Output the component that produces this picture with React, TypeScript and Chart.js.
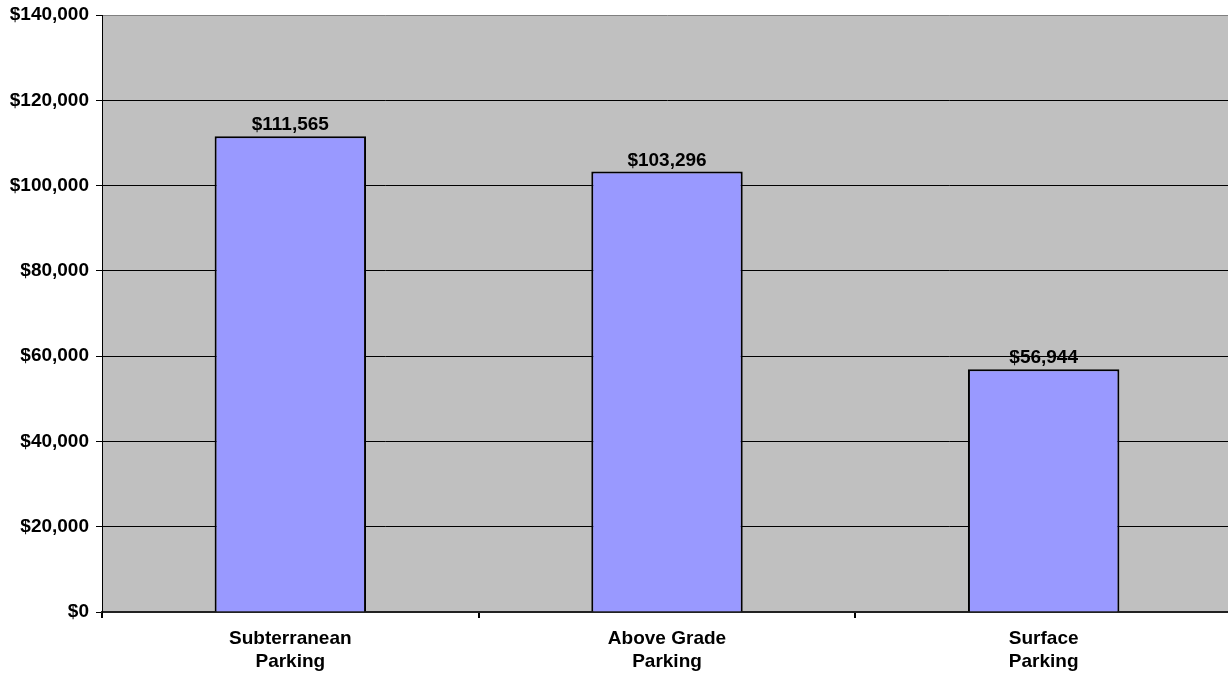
import React, { useEffect, useRef } from "react";
import { Chart, registerables } from "chart.js";

Chart.register(...registerables);

const categories: string[][] = [
  ["Subterranean", "Parking"],
  ["Above Grade", "Parking"],
  ["Surface", "Parking"],
];
const costValues: number[] = [111565, 103296, 56944];
const yTickValues: number[] = [0, 20000, 40000, 60000, 80000, 100000, 120000, 140000];

const FONT = "'Liberation Sans', Arial, sans-serif";

const fmt = (v: number) => "$" + v.toLocaleString("en-US");

const bgPlugin = {
  id: "plotBg",
  beforeDraw(chart: any) {
    const { ctx, chartArea } = chart;
    ctx.save();
    ctx.fillStyle = "#C0C0C0";
    ctx.fillRect(chartArea.left, chartArea.top, chartArea.right - chartArea.left, chartArea.bottom - chartArea.top);
    ctx.restore();
  },
};

const labelPlugin = {
  id: "valueLabels",
  afterDatasetsDraw(chart: any) {
    const { ctx } = chart;
    const meta = chart.getDatasetMeta(0);
    ctx.save();
    ctx.font = `bold 19px ${FONT}`;
    ctx.fillStyle = "#000";
    ctx.textAlign = "center";
    ctx.textBaseline = "alphabetic";
    meta.data.forEach((bar: any, i: number) => {
      ctx.fillText(fmt(costValues[i]), bar.x, bar.y - 6);
    });
    ctx.restore();
  },
};

export default function App() {
  const ref = useRef<HTMLCanvasElement | null>(null);
  useEffect(() => {
    document.body.style.margin = "0";
    const chart = new Chart(ref.current as HTMLCanvasElement, {
      type: "bar",
      data: {
        labels: categories,
        datasets: [
          {
            data: costValues,
            backgroundColor: "#9999FF",
            borderColor: "#000000",
            borderWidth: 2,
            categoryPercentage: 1,
            barPercentage: 0.402,
          },
        ],
      },
      options: {
        animation: false,
        responsive: false,
        maintainAspectRatio: false,
        layout: { padding: { top: 15, right: 0, left: 0, bottom: 0 } },
        plugins: {
          legend: { display: false },
          tooltip: { enabled: false },
        },
        scales: {
          x: {
            grid: {
              offset: true,
              drawOnChartArea: false,
              drawTicks: true,
              tickLength: 6,
              color: "#000",
              lineWidth: 2,
            },
            border: { color: "#222", width: 2 },
            ticks: {
              color: "#000",
              padding: 9,
              maxRotation: 0,
              font: { family: FONT, size: 19, weight: "bold", lineHeight: 1.22 },
            },
            afterFit(scale: any) {
              scale.height = 63;
              scale.paddingLeft = 0;
              scale.paddingRight = 0;
            },
          },
          y: {
            min: 0,
            max: 140000,
            afterBuildTicks(scale: any) {
              scale.ticks = yTickValues.map((v) => ({ value: v }));
            },
            grid: {
              color: (c: any) => (c.tick && c.tick.value === 140000 ? "#808080" : "#000"),
              tickColor: "#000",
              tickLength: 6,
              lineWidth: 1,
            },
            border: { color: "#000", width: 1 },
            ticks: {
              color: "#000",
              padding: 7,
              font: { family: FONT, size: 19, weight: "bold" },
              callback: (v: any) => fmt(Number(v)),
            },
            afterFit(scale: any) {
              scale.width = 102;
              scale.paddingTop = 0;
              scale.paddingBottom = 0;
            },
          },
        },
      },
      plugins: [bgPlugin, labelPlugin],
    } as any);
    return () => chart.destroy();
  }, []);
  return (
    <div style={{ position: "absolute", left: 0, top: 0, width: 1228, height: 675, background: "#fff", overflow: "hidden" }}>
      <canvas ref={ref} width={1232} height={675} style={{ width: 1232, height: 675, display: "block" }} />
    </div>
  );
}
